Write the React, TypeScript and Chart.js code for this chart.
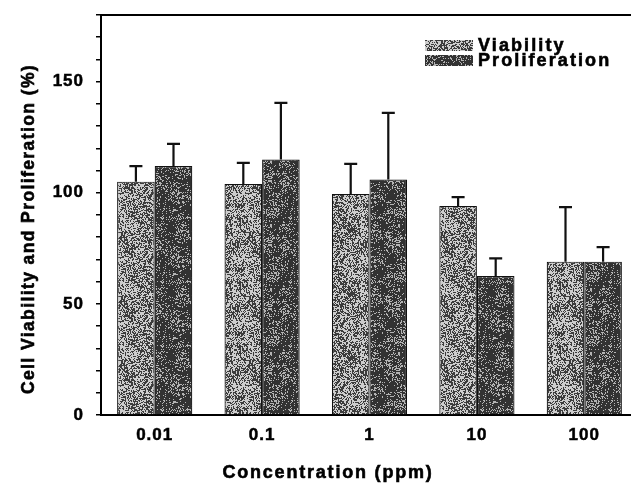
import React, { useEffect, useRef } from "react";
import { Chart, registerables } from "chart.js";

Chart.register(...registerables);

const categories = ["0.01", "0.1", "1", "10", "100"];
const viability = [105, 104, 99.5, 94, 69];
const viabilityErr = [7, 9.5, 13.5, 4, 24.5];
const proliferation = [112, 115, 106, 62.5, 69];
const proliferationErr = [10, 25.5, 30, 8, 6.5];
const seriesLabels = ["Viability", "Proliferation"];
const yTickLabels = [0, 50, 100, 150];
const xTitle = "Concentration (ppm)";
const yTitle = "Cell Viability and Proliferation (%)";

const FONT = "'Liberation Sans', Arial, Helvetica, sans-serif";

function hash(x: number, y: number, s: number) {
  let h = (Math.imul(x, 374761393) + Math.imul(y, 668265263) + Math.imul(s, 1442695041)) | 0;
  h = Math.imul(h ^ (h >>> 13), 1274126177);
  h ^= h >>> 16;
  return (h >>> 0) / 4294967296;
}

function makePattern(density: number, dark: number, light: number, seed: number) {
  const size = 64;
  const c = document.createElement("canvas");
  c.width = size;
  c.height = size;
  const ctx = c.getContext("2d")!;
  const img = ctx.createImageData(size, size);
  for (let y = 0; y < size; y++) {
    for (let x = 0; x < size; x++) {
      const blot = (hash(x >> 3, y >> 3, seed + 11) - 0.5) * 0.35;
      const d = density + blot;
      const v = hash(x, y, seed) < d ? dark : light;
      const i = (y * size + x) * 4;
      img.data[i] = v;
      img.data[i + 1] = v;
      img.data[i + 2] = v;
      img.data[i + 3] = 255;
    }
  }
  ctx.putImageData(img, 0, 0);
  return ctx.createPattern(c, "repeat")!;
}

const errorBarsPlugin = {
  id: "errorBars",
  afterDatasetsDraw(chart: any) {
    const ctx = chart.ctx;
    const yScale = chart.scales.y;
    const errs = [viabilityErr, proliferationErr];
    ctx.save();
    ctx.strokeStyle = "#111";
    ctx.lineWidth = 2.2;
    chart.data.datasets.forEach((ds: any, di: number) => {
      const meta = chart.getDatasetMeta(di);
      meta.data.forEach((bar: any, i: number) => {
        const v = ds.data[i];
        const top = yScale.getPixelForValue(v + errs[di][i]);
        const base = yScale.getPixelForValue(v);
        ctx.beginPath();
        ctx.moveTo(bar.x, base);
        ctx.lineTo(bar.x, top);
        ctx.moveTo(bar.x - 6.5, top);
        ctx.lineTo(bar.x + 6.5, top);
        ctx.stroke();
      });
    });
    ctx.restore();
  },
};

function boldText(ctx: any, text: string, x: number, y: number) {
  ctx.fillText(text, x, y);
  ctx.strokeText(text, x, y);
}

const decorPlugin = {
  id: "decor",
  beforeDraw(chart: any) {
    (chart.ctx as any).letterSpacing = "1px";
  },
  afterDraw(chart: any) {
    const ctx = chart.ctx;
    const area = chart.chartArea;
    ctx.save();
    // top frame line
    ctx.strokeStyle = "#000";
    ctx.lineWidth = 2;
    ctx.beginPath();
    ctx.moveTo(area.left - 1, area.top);
    ctx.lineTo(chart.width, area.top);
    ctx.stroke();

    ctx.fillStyle = "#000";
    ctx.strokeStyle = "#000";
    ctx.lineWidth = 0.6;
    // x title
    (ctx as any).letterSpacing = "1.8px";
    ctx.font = `bold 18px ${FONT}`;
    ctx.textAlign = "center";
    ctx.textBaseline = "alphabetic";
    boldText(ctx, xTitle, 328, 478);
    // y title
    (ctx as any).letterSpacing = "1.4px";
    ctx.font = `bold 17.5px ${FONT}`;
    ctx.save();
    ctx.translate(34, 229);
    ctx.rotate(-Math.PI / 2);
    boldText(ctx, yTitle, 0, 0);
    ctx.restore();

    // legend
    (ctx as any).letterSpacing = "2.1px";
    ctx.font = `bold 18px ${FONT}`;
    ctx.textAlign = "left";
    chart.data.datasets.forEach((ds: any, i: number) => {
      const y = 40 + i * 15;
      ctx.fillStyle = ds.backgroundColor;
      ctx.fillRect(425, y, 48, 11);
      ctx.fillStyle = "#000";
      boldText(ctx, seriesLabels[i], 478, y + 11);
    });
    ctx.restore();
  },
};

export default function App() {
  const ref = useRef<HTMLCanvasElement>(null);
  useEffect(() => {
    const canvas = ref.current!;
    const patV = makePattern(0.5, 60, 205, 3);
    const patP = makePattern(0.76, 50, 180, 17);
    const chart = new Chart(canvas, {
      type: "bar",
      data: {
        labels: categories,
        datasets: [
          {
            label: seriesLabels[0],
            data: viability,
            backgroundColor: patV as any,
            borderColor: "#111",
            borderWidth: 1.2,
            categoryPercentage: 0.7,
            barPercentage: 1.0,
          },
          {
            label: seriesLabels[1],
            data: proliferation,
            backgroundColor: patP as any,
            borderColor: "#111",
            borderWidth: 1.2,
            categoryPercentage: 0.7,
            barPercentage: 1.0,
          },
        ],
      },
      options: {
        animation: false,
        responsive: false,
        devicePixelRatio: 1,
        layout: { padding: { left: 0, right: 7, top: 15, bottom: 0 } },
        plugins: {
          legend: { display: false },
          tooltip: { enabled: false },
          title: { display: false },
        },
        scales: {
          x: {
            grid: { display: false, drawTicks: false },
            border: { display: true, color: "#000", width: 2 },
            ticks: {
              color: "#000",
              font: { family: FONT, size: 17, weight: "bold" },
              textStrokeColor: "#000",
              textStrokeWidth: 0.5,
              padding: 10,
            },
            afterFit: (s: any) => {
              s.height = 69;
            },
          },
          y: {
            min: 0,
            max: 180,
            grid: {
              display: true,
              drawOnChartArea: false,
              drawTicks: true,
              tickLength: 5,
              color: "#000",
              lineWidth: 1.5,
            },
            border: { display: true, color: "#000", width: 2 },
            ticks: {
              stepSize: 10,
              autoSkip: false,
              color: "#000",
              padding: 12,
              font: { family: FONT, size: 17, weight: "bold", lineHeight: 0.3 },
              textStrokeColor: "#000",
              textStrokeWidth: 0.5,
              callback: (v: any) => (yTickLabels.includes(Number(v)) ? String(v) : ""),
            },
            afterFit: (s: any) => {
              s.width = 101;
            },
          },
        },
      },
      plugins: [errorBarsPlugin, decorPlugin],
    });
    return () => chart.destroy();
  }, []);
  return (
    <div
      style={{
        position: "fixed",
        left: 0,
        top: 0,
        width: 631,
        height: 484,
        overflow: "hidden",
        background: "#fff",
      }}
    >
      <canvas ref={ref} width={645} height={484} style={{ width: 645, height: 484, display: "block" }} />
    </div>
  );
}
